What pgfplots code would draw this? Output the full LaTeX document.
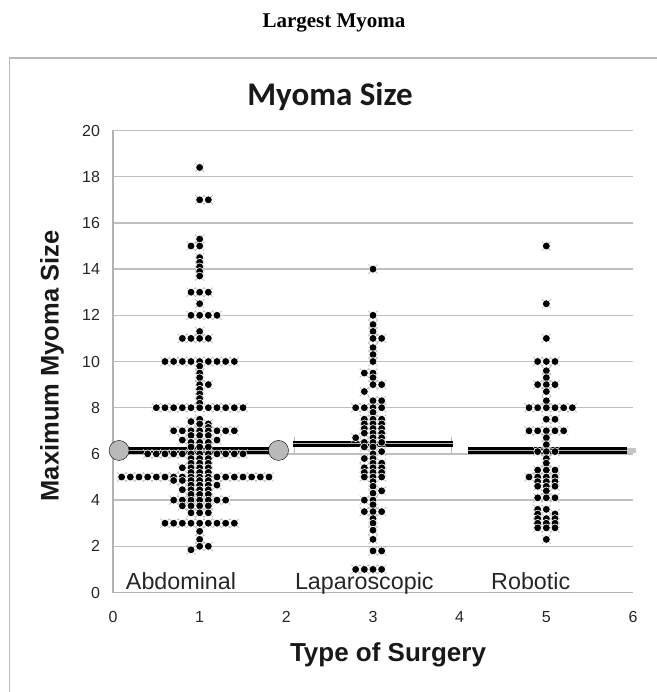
\documentclass[border=0pt]{standalone}
\usepackage{fontspec}
\setmainfont{Liberation Sans}
\newfontfamily\carlito{Carlito}
\newfontfamily\libserif{Liberation Serif}
\usepackage{pgfplots}
\pgfplotsset{compat=1.18}
\usepackage{pgfplotstable}

\pgfplotstableread[row sep=\\]{
x y\\
1.0 18.4\\ 1.0 17.0\\ 1.1 17.0\\ 1.0 15.3\\ 0.9 15.0\\ 1.0 15.0\\
1.0 14.5\\ 1.0 14.3\\ 1.0 14.1\\ 1.0 13.9\\ 1.0 13.7\\
0.9 13.0\\ 1.0 13.0\\ 1.1 13.0\\ 1.0 12.5\\
0.9 12.0\\ 1.0 12.0\\ 1.1 12.0\\ 1.2 12.0\\ 1.0 11.3\\
0.8 11.0\\ 0.9 11.0\\ 1.0 11.0\\ 1.1 11.0\\
0.6 10.0\\ 0.7 10.0\\ 0.8 10.0\\ 0.9 10.0\\ 1.0 10.0\\ 1.1 10.0\\ 1.2 10.0\\ 1.3 10.0\\ 1.4 10.0\\
1.0 9.8\\ 1.0 9.5\\ 1.0 9.3\\ 1.0 9.0\\ 1.1 9.0\\ 1.0 8.8\\ 1.0 8.6\\ 1.0 8.4\\ 1.0 8.2\\
0.5 8.0\\ 0.6 8.0\\ 0.7 8.0\\ 0.8 8.0\\ 0.9 8.0\\ 1.0 8.0\\ 1.1 8.0\\ 1.2 8.0\\ 1.3 8.0\\ 1.4 8.0\\ 1.5 8.0\\
1.0 7.5\\ 0.9 7.4\\ 1.0 7.3\\ 1.1 7.3\\ 1.1 7.15\\
0.7 7.0\\ 0.8 7.0\\ 0.9 7.0\\ 1.0 7.0\\ 1.1 7.0\\ 1.2 7.0\\ 1.3 7.0\\ 1.4 7.0\\
0.9 6.8\\ 1.0 6.8\\ 1.1 6.8\\ 0.8 6.6\\ 1.2 6.6\\ 0.9 6.5\\ 1.0 6.5\\ 1.1 6.5\\ 0.9 6.3\\ 1.0 6.3\\ 1.1 6.3\\
0.4 6.0\\ 0.5 6.0\\ 0.6 6.0\\ 0.7 6.0\\ 0.8 6.0\\ 0.9 6.0\\ 1.0 6.0\\ 1.1 6.0\\ 1.2 6.0\\ 1.3 6.0\\ 1.4 6.0\\ 1.5 6.0\\
0.9 5.8\\ 1.0 5.8\\ 1.1 5.8\\ 0.9 5.6\\ 1.0 5.6\\ 1.1 5.6\\ 0.8 5.4\\ 0.9 5.4\\ 1.0 5.4\\ 1.1 5.4\\ 0.9 5.2\\ 1.0 5.2\\ 1.1 5.2\\
0.1 5.0\\ 0.2 5.0\\ 0.3 5.0\\ 0.4 5.0\\ 0.5 5.0\\ 0.6 5.0\\ 0.7 5.0\\ 0.8 5.0\\ 0.9 5.0\\ 1.0 5.0\\ 1.1 5.0\\ 1.2 5.0\\ 1.3 5.0\\ 1.4 5.0\\ 1.5 5.0\\ 1.6 5.0\\ 1.7 5.0\\ 1.8 5.0\\
0.7 4.85\\ 0.8 4.85\\ 0.9 4.85\\ 1.0 4.85\\ 1.1 4.85\\
0.9 4.65\\ 1.0 4.65\\ 1.1 4.65\\ 1.2 4.65\\
0.8 4.45\\ 0.9 4.45\\ 1.0 4.45\\ 1.1 4.45\\
0.9 4.25\\ 1.0 4.25\\ 1.1 4.25\\
0.7 4.0\\ 0.8 4.0\\ 0.9 4.0\\ 1.0 4.0\\ 1.1 4.0\\ 1.2 4.0\\ 1.3 4.0\\
0.8 3.75\\ 0.9 3.75\\ 1.0 3.75\\ 1.1 3.75\\
0.9 3.45\\ 1.0 3.45\\ 1.1 3.45\\
0.6 3.0\\ 0.7 3.0\\ 0.8 3.0\\ 0.9 3.0\\ 1.0 3.0\\ 1.1 3.0\\ 1.2 3.0\\ 1.3 3.0\\ 1.4 3.0\\
1.0 2.65\\ 1.0 2.3\\ 1.0 2.0\\ 1.1 2.0\\ 0.9 1.85\\
}\abd

\pgfplotstableread[row sep=\\]{
x y\\
3.0 14.0\\ 3.0 12.0\\ 3.0 11.6\\ 3.0 11.3\\ 3.0 11.0\\ 3.1 11.0\\ 3.0 10.6\\ 3.0 10.3\\ 3.0 10.0\\
2.9 9.5\\ 3.0 9.5\\ 3.0 9.3\\ 3.0 9.0\\ 3.1 9.0\\ 2.9 8.7\\ 3.0 8.3\\ 3.1 8.3\\
2.8 8.0\\ 2.9 8.0\\ 3.0 8.0\\ 3.1 8.0\\ 3.0 7.8\\
2.9 7.5\\ 3.0 7.5\\ 3.1 7.5\\ 2.9 7.3\\ 3.0 7.3\\ 3.1 7.3\\ 2.9 7.1\\ 3.0 7.1\\ 3.1 7.1\\ 2.9 6.9\\ 3.0 6.9\\ 3.1 6.9\\
2.8 6.7\\ 3.0 6.7\\ 3.1 6.7\\ 2.9 6.5\\ 3.0 6.5\\ 3.1 6.5\\ 2.9 6.3\\ 3.0 6.3\\ 3.0 6.0\\ 3.1 6.1\\
2.9 5.8\\ 3.0 5.8\\ 3.0 5.6\\ 3.1 5.6\\ 2.9 5.4\\ 3.0 5.4\\ 3.1 5.4\\ 2.9 5.2\\ 3.0 5.2\\ 3.1 5.2\\ 2.9 5.0\\ 3.0 5.0\\ 3.1 5.0\\
3.0 4.8\\ 3.0 4.6\\ 3.1 4.4\\ 3.0 4.3\\ 2.9 4.0\\ 3.0 4.0\\ 3.0 3.8\\ 2.9 3.5\\ 3.0 3.5\\ 3.1 3.5\\ 3.0 3.2\\ 3.0 3.0\\ 3.0 2.7\\ 3.0 2.3\\ 3.0 1.8\\ 3.1 1.8\\
2.8 1.0\\ 2.9 1.0\\ 3.0 1.0\\ 3.1 1.0\\
}\lap

\pgfplotstableread[row sep=\\]{
x y\\
5.0 15.0\\ 5.0 12.5\\ 5.0 11.0\\
4.9 10.0\\ 5.0 10.0\\ 5.1 10.0\\ 5.0 9.6\\ 5.0 9.3\\ 4.9 9.0\\ 5.0 9.0\\ 5.1 9.0\\ 5.0 8.7\\ 5.0 8.3\\
4.8 8.0\\ 4.9 8.0\\ 5.0 8.0\\ 5.1 8.0\\ 5.2 8.0\\ 5.3 8.0\\
5.0 7.5\\ 5.1 7.5\\
4.8 7.0\\ 4.9 7.0\\ 5.0 7.0\\ 5.1 7.0\\ 5.2 7.0\\
5.0 6.7\\ 5.0 6.4\\ 4.9 6.1\\ 5.0 6.1\\ 5.1 6.1\\ 5.0 5.8\\ 5.0 5.6\\
4.9 5.3\\ 5.0 5.3\\ 5.1 5.3\\ 4.8 5.0\\ 4.9 5.0\\ 5.0 5.0\\ 5.1 5.0\\
4.9 4.8\\ 5.0 4.8\\ 5.1 4.8\\ 4.9 4.6\\ 5.0 4.6\\ 5.1 4.6\\ 5.0 4.4\\
4.9 4.1\\ 5.0 4.1\\ 5.1 4.1\\ 4.9 3.6\\ 5.0 3.6\\ 4.9 3.4\\ 5.1 3.4\\
4.9 3.2\\ 5.0 3.2\\ 5.1 3.2\\ 4.9 3.0\\ 5.0 3.0\\ 5.1 3.0\\ 4.9 2.8\\ 5.0 2.8\\ 5.1 2.8\\ 5.0 2.3\\
}\rob

\pgfplotsset{
  xmark/.style={only marks, mark=x, mark size=6.5pt, mark options={draw=gray!55, line width=0.7pt}},
  dot/.style={only marks, mark=*, mark size=3.9pt, mark options={fill=black, draw=white, line width=0.6pt}},
  meanline/.style={black, line width=2.7pt, double=gray!60, double distance=1pt},
}

\begin{document}
\begin{tikzpicture}
\path[use as bounding box] (0pt,0pt) rectangle (656pt,-692pt);
\draw[gray!55, line width=1.5pt] (9.5pt,-700pt) -- (9.5pt,-58pt) -- (660pt,-58pt);
\node[font=\libserif\bfseries\fontsize{21}{25}\selectfont] at (334pt,-23pt) {Largest Myoma};
\node[font=\carlito\bfseries\fontsize{33}{40}\selectfont, text=black!90] at (330pt,-97pt) {Myoma Size};
\node[rotate=90, font=\bfseries\fontsize{25.5}{30}\selectfont, text=black!90] at (52pt,-366pt) {Maximum Myoma Size};
\node[font=\bfseries\fontsize{26}{30}\selectfont, text=black!90] at (388pt,-655pt) {Type of Surgery};
\begin{axis}[
  at={(113pt,-592.5pt)}, anchor=south west,
  scale only axis, width=520pt, height=462pt,
  xmin=0, xmax=6, ymin=0, ymax=20,
  xtick={0,1,2,3,4,5,6}, ytick={0,2,4,6,8,10,12,14,16,18,20},
  ymajorgrids, grid style={gray!50, line width=1.3pt},
  axis x line*=bottom, axis y line*=left,
  axis line style={gray!60, line width=1.5pt, -},
  major tick length=0pt,
  tick label style={font=\fontsize{16}{18}\selectfont, text=black!85},
  /pgf/number format/assume math mode=true,
  yticklabel style={xshift=-9.5pt},
  xticklabel style={yshift=-15pt},
  clip=false,
]
% mean lines
\addplot[only marks, mark=*, mark size=10pt, mark options={fill=gray!55, draw=none}] coordinates {(0.07,6.15) (1.91,6.15)};
\addplot[meanline] coordinates {(0.07,6.15) (1.91,6.15)};
\addplot[gray!55, line width=1pt] coordinates {(2.09,6.0) (2.09,6.72)};
\addplot[gray!55, line width=1pt] coordinates {(3.90,6.0) (3.90,6.72)};
\addplot[meanline] coordinates {(2.08,6.44) (3.92,6.44)};
\addplot[gray!45, line width=5pt] coordinates {(5.85,6.15) (6.04,6.15)};
\addplot[meanline] coordinates {(4.10,6.15) (5.925,6.15)};
% dots
\addplot[xmark] table {\abd};
\addplot[xmark] table {\lap};
\addplot[xmark] table {\rob};
\addplot[dot] table {\abd};
\addplot[dot] table {\lap};
\addplot[dot] table {\rob};
% category labels
\node[anchor=base, font=\fontsize{23.3}{28}\selectfont, text=black!85] at (axis cs:0.785,0.15) {Abdominal};
\node[anchor=base, font=\fontsize{23.3}{28}\selectfont, text=black!85] at (axis cs:2.9,0.15) {Laparoscopic};
\node[anchor=base, font=\fontsize{23.3}{28}\selectfont, text=black!85] at (axis cs:4.82,0.15) {Robotic};
\end{axis}
\end{tikzpicture}
\end{document}
